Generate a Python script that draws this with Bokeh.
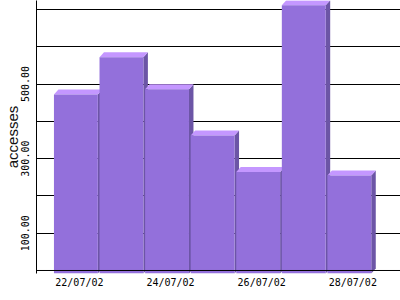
from bokeh.plotting import figure
from bokeh.models import FixedTicker, PrintfTickFormatter, Span, Range1d, ColumnDataSource
from bokeh.embed import file_html
from bokeh.resources import INLINE

# ---- data ----
dates = ["22/07/02", "23/07/02", "24/07/02", "25/07/02", "26/07/02", "27/07/02", "28/07/02"]
accesses = [472, 572, 486, 362, 264, 711, 255]
label_ticks = [0, 2, 4, 6]
y_label_ticks = [100, 300, 500]
grid_ticks = [100, 200, 300, 400, 500, 600, 700]

# ---- style ----
FRONT = "#9370db"
TOP = "#c497ff"
SIDE = "#6c55a6"
PX_X = 45.7           # pixels per category
PX_Y = 0.3729         # pixels per unit
W = 44 / PX_X         # bar width
OFF = 3.5 / PX_X      # front-face shift left of tick
DX = 4.5 / PX_X       # 3D depth x
DY = 5 / PX_Y         # 3D depth y
BOT = -3 / PX_Y       # front face bottom below axis

p = figure(width=400, height=300, output_backend="svg", toolbar_location=None,
           x_range=Range1d(-43 / PX_X, 322 / PX_X), y_range=Range1d(BOT, 724),
           min_border_left=35, min_border_right=0, min_border_top=0, min_border_bottom=27)
p.outline_line_color = None
p.background_fill_color = "white"
p.border_fill_color = "white"

lefts = [i - OFF - W / 2 for i in range(len(accesses))]
rights = [i - OFF + W / 2 for i in range(len(accesses))]

side_xs = [[r, r, r + DX, r + DX] for r in rights]
side_ys = [[BOT, v, v + DY, BOT + DY] for v in accesses]
top_xs = [[l, l + DX, r + DX, r] for l, r in zip(lefts, rights)]
top_ys = [[v, v + DY, v + DY, v] for v in accesses]

p.patches(side_xs, side_ys, fill_color=SIDE, line_color=None)
p.patches(top_xs, top_ys, fill_color=TOP, line_color=None)
src = ColumnDataSource(dict(left=lefts, right=rights, top=accesses, bottom=[BOT] * len(accesses)))
p.quad(left="left", right="right", top="top", bottom="bottom", source=src,
       fill_color=FRONT, line_color=None)

p.add_layout(Span(location=0, dimension="width", line_color="black", line_width=1))

# grid
p.xgrid.visible = False
p.ygrid.ticker = FixedTicker(ticks=grid_ticks)
p.ygrid.grid_line_color = "black"
p.ygrid.grid_line_alpha = 1.0

# x axis
xa = p.xaxis[0]
xa.ticker = FixedTicker(ticks=label_ticks)
xa.major_label_overrides = {i: dates[i] for i in label_ticks}
xa.axis_line_color = None
xa.major_tick_line_color = None
xa.minor_tick_line_color = None
xa.major_tick_out = 0
xa.major_tick_in = 0
xa.major_label_standoff = 3
xa.major_label_text_font = "DejaVu Sans Mono"
xa.major_label_text_font_size = "10px"
xa.major_label_text_color = "black"

# y axis
ya = p.yaxis[0]
ya.ticker = FixedTicker(ticks=y_label_ticks)
ya.formatter = PrintfTickFormatter(format="%.2f")
ya.axis_line_color = "black"
ya.major_tick_line_color = None
ya.minor_tick_line_color = None
ya.major_tick_out = 0
ya.major_tick_in = 0
ya.major_label_orientation = "vertical"
ya.major_label_standoff = 7
ya.major_label_text_font = "DejaVu Sans Mono"
ya.major_label_text_font_size = "10px"
ya.major_label_text_color = "black"
ya.axis_label = "accesses"
ya.axis_label_text_font = "Liberation Sans"
ya.axis_label_text_font_size = "15px"
ya.axis_label_text_font_style = "normal"
ya.axis_label_text_color = "#111111"
ya.axis_label_standoff = -2

open("out.html", "w").write(file_html(p, INLINE))
